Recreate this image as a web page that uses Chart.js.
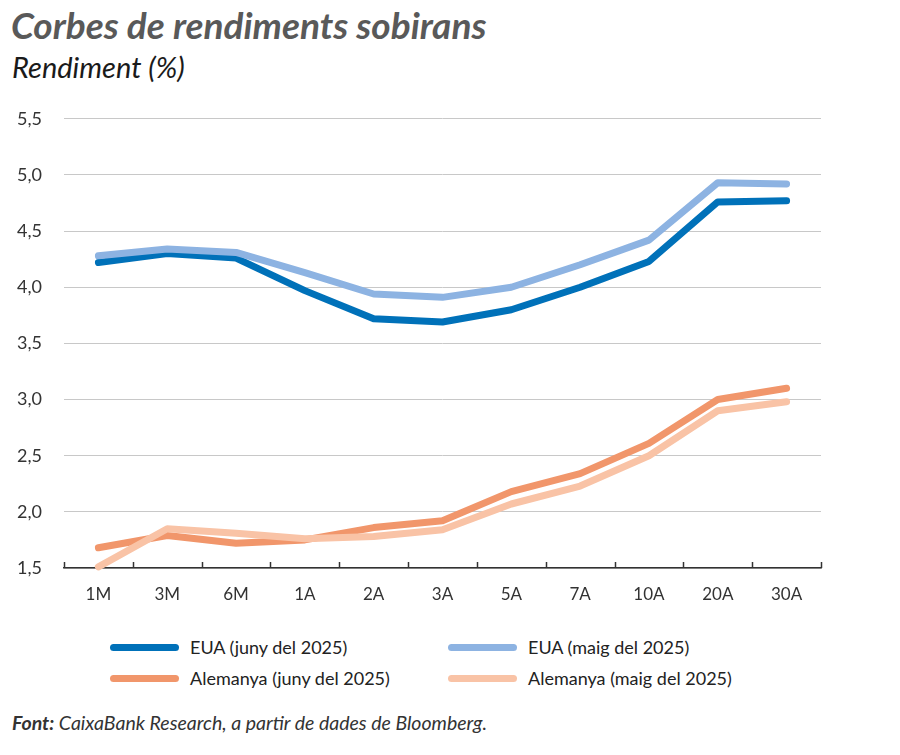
<!DOCTYPE html>
<html>

<head>
  <title>Corbes de rendiments sobirans</title>
  <script src="https://cdn.jsdelivr.net/npm/chart.js"></script>
  <style>
    body { margin: 0; width: 900px; height: 755px; background: #fff; font-family: Lato, "Noto Sans", sans-serif; position: relative; overflow: hidden; }
    #title { position: absolute; left: 11px; top: 0px; font-size: 37px; line-height: 50px; font-weight: bold; font-style: italic; color: #595959; }
    #subtitle { position: absolute; left: 12px; top: 48px; font-size: 29px; line-height: 38px; font-style: italic; color: #1a1a1a; }
    #wrap { position: absolute; left: 0; top: 86px; width: 900px; height: 524px; }
    #legend { position: absolute; left: 110px; top: 636px; width: 700px; }
    .item { position: absolute; display: flex; align-items: center; font-size: 18px; line-height: 22px; color: #222; }
    .swatch { width: 69px; height: 7px; border-radius: 4px; margin-right: 11px; }
    #source { position: absolute; left: 12px; top: 711px; font-size: 19.5px; line-height: 24px; font-style: italic; color: #333; }
  </style>
</head>

<body>
  <div id="title">Corbes de rendiments sobirans</div>
  <div id="subtitle">Rendiment (%)</div>
  <div id="wrap"><canvas id="chart"></canvas></div>
  <div id="legend"></div>
  <div id="source"><b>Font:</b> CaixaBank Research, a partir de dades de Bloomberg.</div>

  <script>
    const maturities = ['1M', '3M', '6M', '1A', '2A', '3A', '5A', '7A', '10A', '20A', '30A'];
    const euaJuny = [4.22, 4.30, 4.26, 3.97, 3.72, 3.69, 3.80, 4.00, 4.23, 4.76, 4.77];
    const euaMaig = [4.28, 4.34, 4.31, 4.13, 3.94, 3.91, 4.00, 4.20, 4.42, 4.93, 4.92];
    const alemanyaJuny = [1.68, 1.79, 1.72, 1.75, 1.86, 1.92, 2.18, 2.34, 2.61, 3.00, 3.10];
    const alemanyaMaig = [1.51, 1.85, 1.81, 1.76, 1.78, 1.84, 2.07, 2.23, 2.50, 2.90, 2.98];

    const series = [
      { label: 'EUA (juny del 2025)', data: euaJuny, color: '#0071b9' },
      { label: 'EUA (maig del 2025)', data: euaMaig, color: '#8db3e2' },
      { label: 'Alemanya (juny del 2025)', data: alemanyaJuny, color: '#f1966b' },
      { label: 'Alemanya (maig del 2025)', data: alemanyaMaig, color: '#f9c3a6' }
    ];

    // tick marks pointing up from the x axis, at category boundaries
    const upTicks = {
      id: 'upTicks',
      afterDraw(chart) {
        const x = chart.scales.x;
        const ctx = chart.ctx;
        const n = maturities.length;
        const step = (x.right - x.left) / n;
        ctx.save();
        ctx.strokeStyle = '#333';
        ctx.lineWidth = 1.5;
        for (let i = 0; i <= n; i++) {
          const px = Math.round(x.left + i * step) + 0.5;
          ctx.beginPath();
          ctx.moveTo(px, x.top);
          ctx.lineTo(px, x.top - 6);
          ctx.stroke();
        }
        ctx.restore();
      }
    };

    const ctx = document.getElementById('chart').getContext('2d');
    new Chart(ctx, {
      type: 'line',
      data: {
        labels: maturities,
        datasets: series.slice().reverse().map(s => ({
          label: s.label,
          data: s.data,
          borderColor: s.color,
          backgroundColor: s.color,
          borderWidth: 7,
          borderCapStyle: 'round',
          borderJoinStyle: 'round',
          pointRadius: 0,
          tension: 0,
          fill: false,
          clip: 8
        }))
      },
      options: {
        responsive: true,
        maintainAspectRatio: false,
        animation: false,
        layout: { padding: { left: 0, right: 79, top: 3, bottom: 0 } },
        plugins: { legend: { display: false }, tooltip: { enabled: false } },
        scales: {
          x: {
            offset: true,
            grid: { display: false, drawTicks: false },
            border: { display: true, color: '#333', width: 1.5 },
            ticks: { color: '#333', padding: 16, font: { family: 'Lato', size: 17 } },
            afterFit(scale) { scale.height = 42; }
          },
          y: {
            min: 1.5,
            max: 5.5,
            grid: { color: '#c8c8c8', lineWidth: 1, drawTicks: false },
            border: { display: false },
            ticks: {
              stepSize: 0.5,
              color: '#333',
              padding: 22,
              font: { family: 'Lato', size: 18 },
              callback: v => v.toFixed(1).replace('.', ',')
            },
            afterFit(scale) { scale.width = 64; }
          }
        }
      },
      plugins: [upTicks]
    });

    // legend in two columns
    const legend = document.getElementById('legend');
    series.forEach((s, i) => {
      const item = document.createElement('div');
      item.className = 'item';
      item.style.left = (i % 2 ? 338 : 0) + 'px';
      item.style.top = (Math.floor(i / 2) * 31) + 'px';
      item.innerHTML = '<span class="swatch" style="background:' + s.color + '"></span>' + s.label;
      legend.appendChild(item);
    });
  </script>
</body>

</html>
